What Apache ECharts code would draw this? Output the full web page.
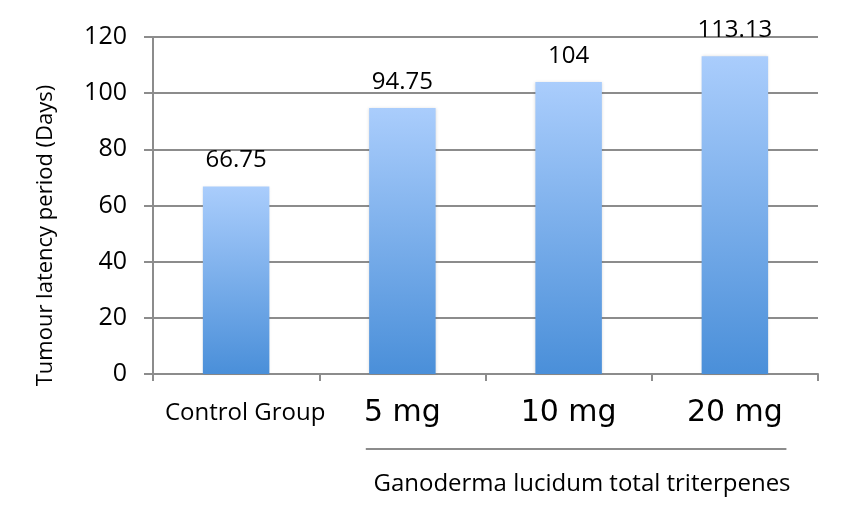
<!DOCTYPE html>
<html>
<head>
<meta charset="utf-8">
<script src="https://cdn.jsdelivr.net/npm/echarts@6/dist/echarts.min.js"></script>
<style>html,body{margin:0;padding:0;background:#fff}#c{width:850px;height:512px}</style>
</head>
<body>
<div id="c"></div>
<script>
const categories = ['Control Group', '5 mg', '10 mg', '20 mg'];
const values = [66.75, 94.75, 104, 113.13];
const labels = ['66.75', '94.75', '104', '113.13'];
const yTicks = [0, 20, 40, 60, 80, 100, 120];
const yTitle = 'Tumour latency period (Days)';
const groupTitle = 'Ganoderma lucidum total triterpenes';
const groupFrom = '5 mg', groupTo = '20 mg';

const chart = echarts.init(document.getElementById('c'), null, {renderer: 'canvas'});
const option = {
  backgroundColor: '#fff',
  animation: false,
  grid: {left: 153, right: 32, top: 37, bottom: 138, containLabel: false},
  xAxis: {
    type: 'category',
    data: categories,
    axisLine: {lineStyle: {color: '#8c8c8c', width: 2}},
    axisTick: {show: true, length: 7, lineStyle: {color: '#8c8c8c', width: 2}},
    axisLabel: {
      margin: 24,
      formatter: function (v) { return v === 'Control Group' ? '{a|' + v + '}' : '{b|' + v + '}'; },
      rich: {
        a: {fontFamily: 'Open Sans', fontSize: 24, color: '#000', padding: [3, 0, 0, 18]},
        b: {fontFamily: 'DejaVu Sans', fontSize: 30, color: '#000'}
      }
    }
  },
  yAxis: {
    type: 'value',
    min: yTicks[0], max: yTicks[yTicks.length - 1], interval: yTicks[1] - yTicks[0],
    name: yTitle,
    nameLocation: 'middle',
    nameGap: 96,
    nameTextStyle: {fontFamily: 'Open Sans', fontSize: 22, color: '#000', padding: [0, 60, 0, 0]},
    axisLine: {show: true, lineStyle: {color: '#8c8c8c', width: 2}},
    axisTick: {show: true, length: 9, lineStyle: {color: '#8c8c8c', width: 2}},
    axisLabel: {margin: 26, fontFamily: 'Open Sans', fontSize: 25, color: '#000'},
    splitLine: {lineStyle: {color: '#8c8c8c', width: 2}}
  },
  series: [{
    type: 'bar',
    data: values,
    barWidth: '40%',
    itemStyle: {
      color: new echarts.graphic.LinearGradient(0, 0, 0, 1, [
        {offset: 0, color: '#aacdfc'},
        {offset: 1, color: '#4a8fd9'}
      ]),
      shadowColor: 'rgba(0,0,0,0.15)', shadowBlur: 3
    },
    label: {
      show: true, position: 'top', distance: 14,
      formatter: function (p) { return labels[p.dataIndex]; },
      fontFamily: 'Open Sans', fontSize: 24, color: '#000'
    }
  }]
};
chart.setOption(option);

const xFrom = chart.convertToPixel({xAxisIndex: 0}, groupFrom);
const xTo = chart.convertToPixel({xAxisIndex: 0}, groupTo);
const band = chart.convertToPixel({xAxisIndex: 0}, categories[1]) - chart.convertToPixel({xAxisIndex: 0}, categories[0]);
const x1 = xFrom - band * 0.22, x2 = xTo + band * 0.31;
chart.setOption({
  graphic: [
    {type: 'line', shape: {x1: x1, y1: 449, x2: x2, y2: 449}, style: {stroke: '#8c8c8c', lineWidth: 2}},
    {type: 'text', x: 582, y: 484, style: {text: groupTitle, fontFamily: 'Open Sans', fontSize: 24, fill: '#000', align: 'center', verticalAlign: 'middle'}}
  ]
});
</script>
</body>
</html>
